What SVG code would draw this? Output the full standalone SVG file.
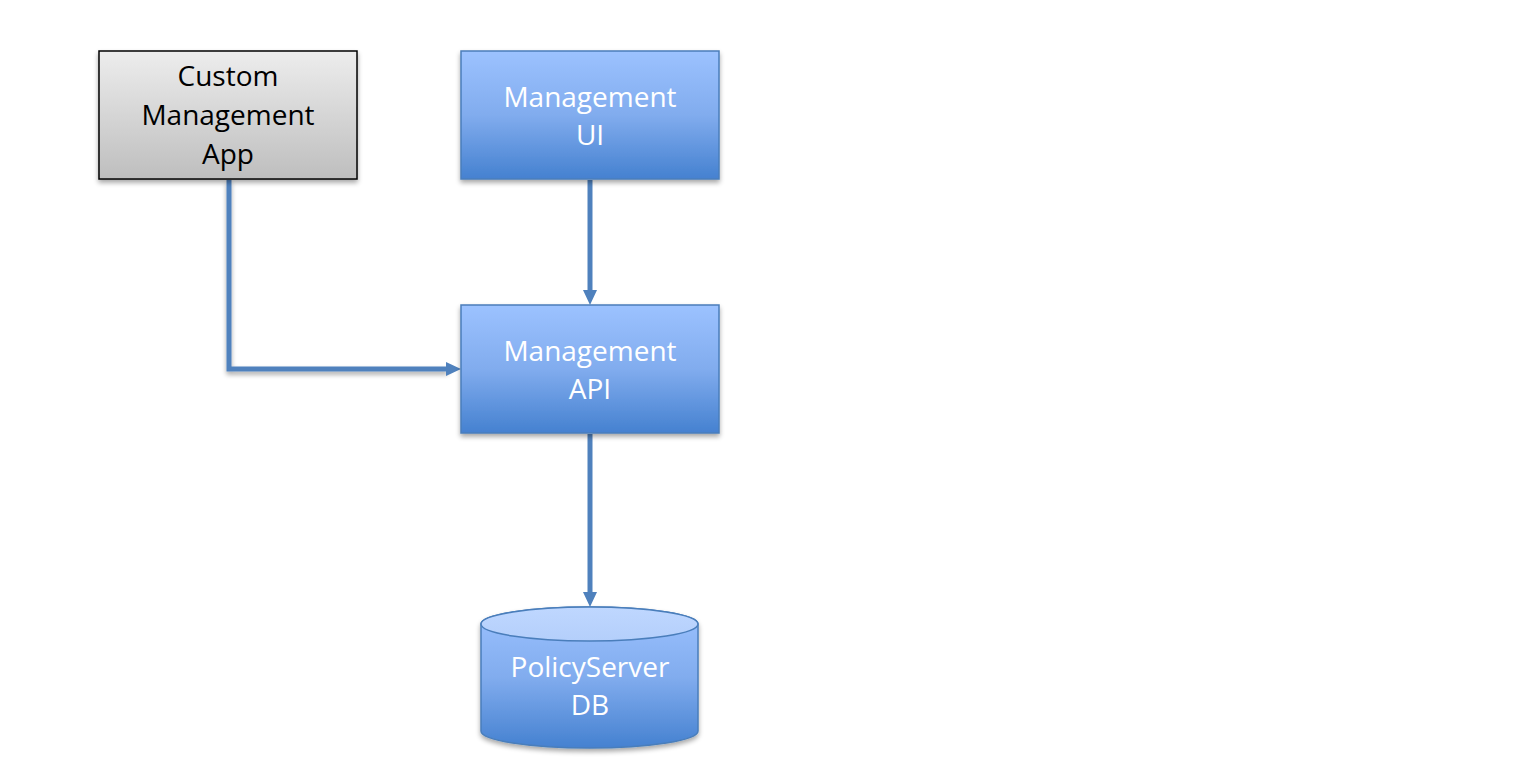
<svg xmlns="http://www.w3.org/2000/svg" width="1537" height="765" viewBox="0 0 1537 765">
<defs>
<linearGradient id="blue" x1="0" y1="0" x2="0" y2="1">
<stop offset="0" stop-color="#9CC2FF"/>
<stop offset="0.5" stop-color="#81ACEE"/>
<stop offset="1" stop-color="#4581D0"/>
</linearGradient>
<linearGradient id="gray" x1="0" y1="0" x2="0" y2="1">
<stop offset="0" stop-color="#EDEDED"/>
<stop offset="1" stop-color="#BEBEBE"/>
</linearGradient>
<linearGradient id="cyltop" x1="0" y1="0" x2="0" y2="1">
<stop offset="0" stop-color="#BFD7FF"/>
<stop offset="1" stop-color="#B4CFFB"/>
</linearGradient>
<filter id="sh" x="-10%" y="-10%" width="125%" height="130%">
<feGaussianBlur in="SourceAlpha" stdDeviation="2.5"/>
<feOffset dx="0" dy="3"/>
<feComponentTransfer><feFuncA type="linear" slope="0.35"/></feComponentTransfer>
<feMerge><feMergeNode/><feMergeNode in="SourceGraphic"/></feMerge>
</filter>
</defs>
<style>
.blue{fill:url(#blue);stroke:#4A7EBB;stroke-width:1.5}
.gray{fill:url(#gray);stroke:#000;stroke-width:1.5}
.t{font-family:"Open Sans","Liberation Sans",sans-serif;font-size:28px;text-anchor:middle}
.w{fill:#fff}
.k{fill:#000}
.c{fill:none;stroke:#4F81BD;stroke-width:5}
.ah{fill:#4F81BD}
</style>
<g id="connectors">
<path class="c" d="M229,180 V369 H448" filter="url(#sh)"/>
<polygon class="ah" points="461,369 446,362 446,376"/>
<path class="c" d="M590,180 V292"/>
<polygon class="ah" points="590,305 583,290 597,290"/>
<path class="c" d="M590,434 V594"/>
<polygon class="ah" points="590,607 583,592 597,592"/>
</g>
<g id="custom-app">
<rect class="gray" x="99" y="51" width="258" height="128" filter="url(#sh)"/>
<text class="t k" x="228" y="86">Custom</text>
<text class="t k" x="228" y="125">Management</text>
<text class="t k" x="228" y="164">App</text>
</g>
<g id="management-ui">
<rect class="blue" x="461" y="51" width="258" height="128" filter="url(#sh)"/>
<text class="t w" x="590" y="107">Management</text>
<text class="t w" x="590" y="145">UI</text>
</g>
<g id="management-api">
<rect class="blue" x="461" y="305" width="258" height="128" filter="url(#sh)"/>
<text class="t w" x="590" y="361">Management</text>
<text class="t w" x="590" y="399">API</text>
</g>
<g id="policyserver-db">
<path class="blue" d="M481,624 V731 A108.5,17 0 0 0 698,731 V624 A108.5,17 0 0 0 481,624 Z" filter="url(#sh)"/>
<ellipse cx="589.5" cy="624" rx="108.5" ry="17" fill="url(#cyltop)" stroke="#4A7EBB" stroke-width="1.5"/>
<text class="t w" x="590" y="677">PolicyServer</text>
<text class="t w" x="590" y="715">DB</text>
</g>
</svg>
